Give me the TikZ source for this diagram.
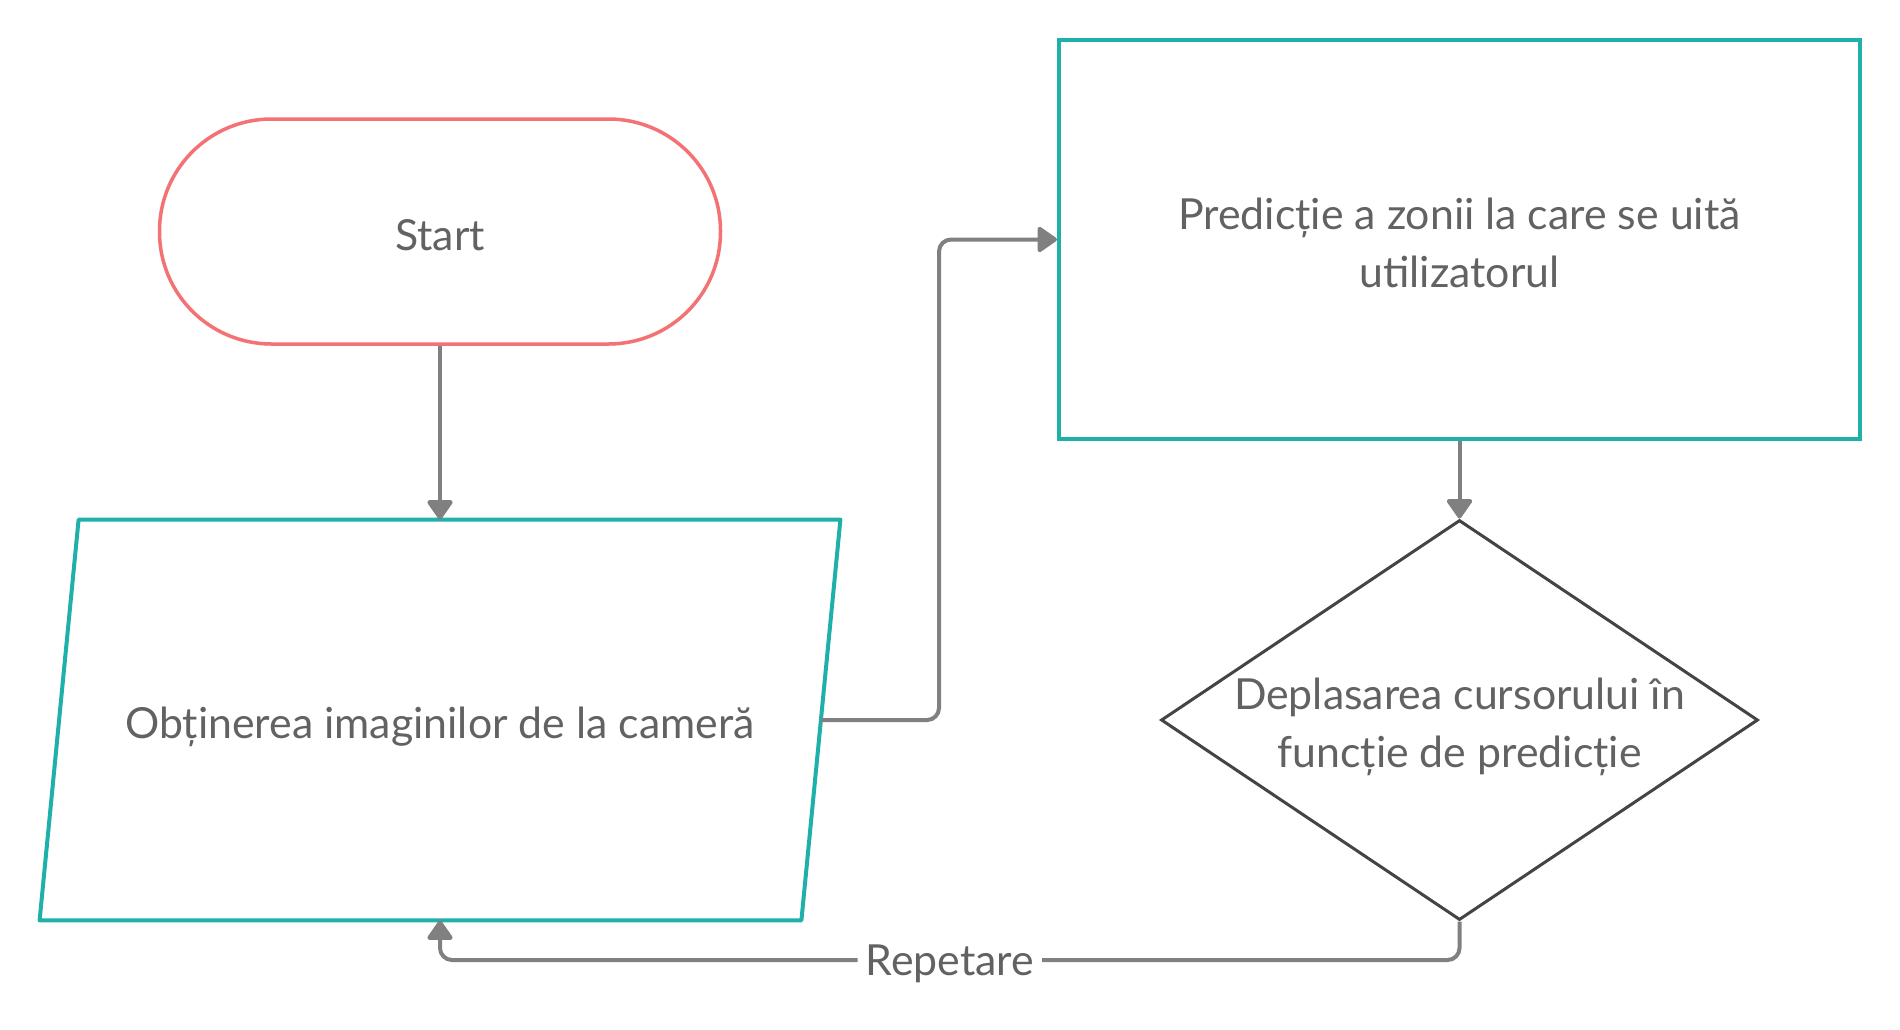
\documentclass[tikz,border=0pt]{standalone}
\usepackage{fontspec}
\setmainfont{Lato}
\usetikzlibrary{shapes.geometric}
\usetikzlibrary{arrows.meta}

\definecolor{startred}{RGB}{243,114,116}
\definecolor{boxteal}{RGB}{31,176,170}
\definecolor{diagray}{RGB}{68,68,68}
\definecolor{linegray}{RGB}{128,128,128}
\definecolor{txtgray}{RGB}{98,98,98}

\tikzset{
	flowtext/.style={text=txtgray, font=\fontsize{21.4}{29}\selectfont, align=center, inner sep=0pt, text height=18.5pt, text depth=0pt},
	twolines/.style={text height=47.5pt},
	flowline/.style={draw=linegray, line width=2pt, rounded corners=6pt, -{Triangle[round,length=10.5pt,width=14pt]}}
}

\begin{document}
\begin{tikzpicture}[x=0.5pt, y=-0.5pt]
	\useasboundingbox (0,0) rectangle (1900,1029);
	
	\node[flowtext, draw=startred, line width=1.75pt, minimum width=280.5pt, minimum height=112.5pt, rounded corners=56pt] (start) at (440,231.5) {Start};
	
	% parallelogram drawn by hand round its node
	\node[flowtext, minimum width=380.5pt, minimum height=200pt] (cam) at (440,720) {Obținerea imaginilor de la cameră};
	\draw[boxteal, line width=2pt, line join=round] ([xshift=9.75pt]cam.north west) -- ([xshift=9.75pt]cam.north east) -- ([xshift=-9.75pt]cam.south east) -- ([xshift=-9.75pt]cam.south west) -- cycle;
	
	\node[flowtext, twolines, draw=boxteal, line width=2pt, minimum width=400.5pt, minimum height=199.5pt] (pred) at (1459.5,239.5) {Predicție a zonii la care se uită\\utilizatorul};
	
	\node[flowtext, twolines, shape=diamond, draw=diagray, line width=1.5pt, minimum width=298.5pt, minimum height=200pt, aspect=1.5] (dep) at (1459.5,720) {Deplasarea cursorului în\\funcție de predicție};
	
	% connectors
	\coordinate (bend) at (939,480);
	\coordinate (loop) at (1459.5,960);
	
	\draw[flowline] (cam.east) -| (bend) |- (pred.west);
	\draw[flowline] (start.south) -- (cam.north);
	\draw[flowline] (pred.south) -- (dep.north);
	\draw[flowline] (dep.south) -- (loop) -| (cam.south) node[flowtext, pos=0.25, fill=white, text height=15.5pt, inner xsep=4pt, inner ysep=2pt] (rep) {Repetare};
	
\end{tikzpicture}
\end{document}
